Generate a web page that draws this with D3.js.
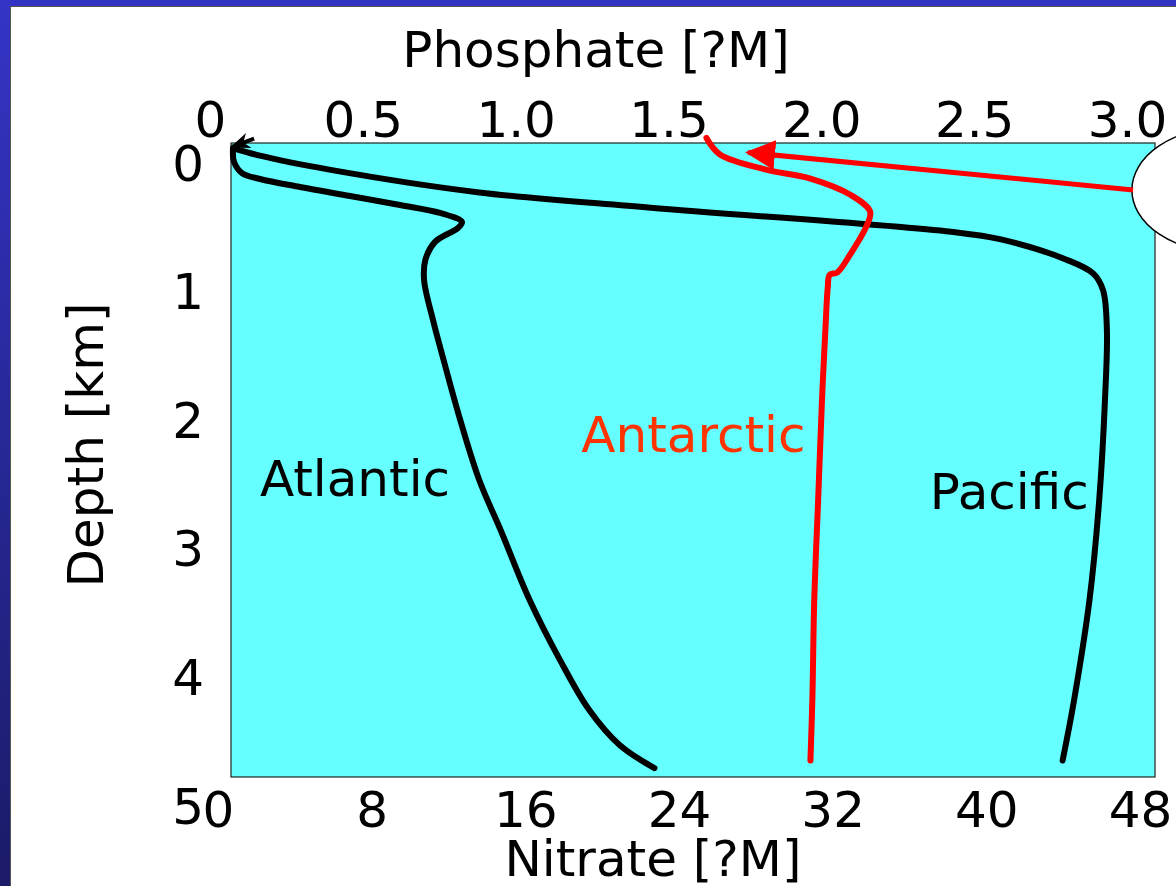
<!DOCTYPE html>
<html>
<head>
<meta charset="utf-8">
<title>Phosphate / Nitrate depth profiles</title>
<script src="https://cdn.jsdelivr.net/npm/d3@7"></script>
<style>
	body { margin: 0; background: #fff; }
	svg text { font-family: "DejaVu Sans", Verdana, sans-serif; }
</style>
</head>
<body>
<svg id="chart" width="1176" height="886"></svg>
<script>

// tick values
var nitrateTicks = [0, 8, 16, 24, 32, 40, 48]
var phosphateTicks = [0, 0.5, 1.0, 1.5, 2.0, 2.5, 3.0]
var depthTicks = [0, 1, 2, 3, 4, 5]

// profiles: nitrate [uM] vs depth [km]
var atlanticNitrate = [0.1, 0.16, 0.57, 1.51, 3.58, 6.18, 8.78, 10.86, 12.0, 11.79, 10.6, 10.1, 10.03, 10.5, 10.9, 11.9, 12.9, 14.0, 15.5, 17.1, 18.6, 20.2, 22.0]
var atlanticDepth   = [0.055, 0.15, 0.237, 0.284, 0.347, 0.418, 0.489, 0.552, 0.623, 0.67, 0.78, 0.92, 1.08, 1.40, 1.63, 2.18, 2.66, 3.05, 3.60, 4.08, 4.47, 4.75, 4.93]

var pacificNitrate = [0.1, 1.5, 5.1, 12.9, 21.8, 37.4, 40.0, 43.4, 44.8, 45.3, 45.5, 45.4, 45.1, 44.6, 43.8, 43.2]
var pacificDepth   = [0.04, 0.10, 0.21, 0.39, 0.51, 0.70, 0.76, 0.92, 1.03, 1.16, 1.47, 2.03, 2.82, 3.60, 4.39, 4.87]

var antarcticNitrate = [24.7, 25.4, 27.8, 30.1, 32.2, 33.2, 33.0, 32.2, 31.5, 31.1, 31.0, 30.9, 30.7, 30.5, 30.3, 30.2, 30.1]
var antarcticDepth   = [-0.04, 0.09, 0.21, 0.28, 0.41, 0.54, 0.66, 0.87, 1.02, 1.04, 1.14, 1.40, 2.03, 2.82, 3.60, 4.39, 4.87]

// labels inside the plot (nitrate, depth of baseline start)
var labelNames = ['Atlantic', 'Antarctic', 'Pacific']
var labelNitrate = [1.5, 18.2, 36.3]
var labelDepth = [2.78, 2.44, 2.89]

var W = 1176, H = 886
var plot = {left: 231, top: 143, right: 1155, bottom: 777}

var svg = d3.select('#chart')

// slide frame
var defs = svg.append('defs')
var grad = defs.append('linearGradient').attr('id', 'sideGrad')
	.attr('x1', 0).attr('y1', 0).attr('x2', 0).attr('y2', 1)
grad.append('stop').attr('offset', '0%').attr('stop-color', '#3434c6')
grad.append('stop').attr('offset', '100%').attr('stop-color', '#1b1b68')

svg.append('rect').attr('x', 0).attr('y', 0).attr('width', W).attr('height', 6).attr('fill', '#3333c4')
svg.append('rect').attr('x', 0).attr('y', 0).attr('width', 10).attr('height', H).attr('fill', 'url(#sideGrad)')
svg.append('line').attr('x1', 10).attr('x2', W).attr('y1', 6.5).attr('y2', 6.5).attr('stroke', '#555').attr('stroke-width', 1)
svg.append('line').attr('x1', 10.5).attr('x2', 10.5).attr('y1', 6).attr('y2', H).attr('stroke', '#555').attr('stroke-width', 1)

// scales
var x = d3.scaleLinear().domain([0, 48]).range([plot.left, plot.right])
var y = d3.scaleLinear().domain([0, 5]).range([plot.top, plot.bottom])

// label scales (the slide's tick labels sit a little off the plot grid)
var xLabN = d3.scaleLinear().domain([0, 48]).range([218, 1140])
var xLabP = d3.scaleLinear().domain([0, 3]).range([210, 1127])
var yLab = d3.scaleLinear().domain([0, 5]).range([162, 805])

// plot area
svg.append('rect')
	.attr('x', plot.left).attr('y', plot.top)
	.attr('width', plot.right - plot.left).attr('height', plot.bottom - plot.top)
	.attr('fill', '#66ffff').attr('stroke', '#222').attr('stroke-width', 1.2)

function styleAxis(g) {
	g.select('.domain').remove()
	g.selectAll('.tick line').remove()
	g.selectAll('.tick text')
		.attr('fill', '#000')
		.style('font-size', '50px')
		.attr('font-family', null)
}

// bottom axis: nitrate
svg.append('g')
	.attr('transform', 'translate(0,' + plot.bottom + ')')
	.call(d3.axisBottom(xLabN).tickValues(nitrateTicks).tickFormat(d3.format('d')).tickSize(0))
	.call(styleAxis)
	.selectAll('.tick text').attr('y', 50).attr('dy', 0)

// top axis: phosphate
svg.append('g')
	.attr('transform', 'translate(0,' + plot.top + ')')
	.call(d3.axisTop(xLabP).tickValues(phosphateTicks)
		.tickFormat(function(d) { return d === 0 ? '0' : d3.format('.1f')(d) }).tickSize(0))
	.call(styleAxis)
	.selectAll('.tick text').attr('y', -6).attr('dy', 0)

// left axis: depth
svg.append('g')
	.attr('transform', 'translate(204,0)')
	.call(d3.axisLeft(yLab).tickValues(depthTicks).tickFormat(d3.format('d')).tickSize(0))
	.call(styleAxis)
	.selectAll('.tick text').attr('x', 0).attr('dy', '0.36em')

// axis titles
svg.append('text').attr('x', 596).attr('y', 67).attr('text-anchor', 'middle')
	.style('font-size', '50px').text('Phosphate [?M]')
svg.append('text').attr('x', 653).attr('y', 876).attr('text-anchor', 'middle')
	.style('font-size', '50px').text('Nitrate [?M]')
svg.append('text').attr('transform', 'translate(103,445) rotate(-90)').attr('text-anchor', 'middle')
	.style('font-size', '50px').text('Depth [km]')

// profiles
var line = d3.line()
	.x(function(d) { return x(d[0]) })
	.y(function(d) { return y(d[1]) })
	.curve(d3.curveCatmullRom.alpha(0.5))

var profiles = [
	{nit: atlanticNitrate, dep: atlanticDepth, color: '#000'},
	{nit: pacificNitrate, dep: pacificDepth, color: '#000'},
	{nit: antarcticNitrate, dep: antarcticDepth, color: '#ff0000'}
]

profiles.forEach(function(p) {
	var pts = d3.zip(p.nit, p.dep)
	svg.append('path')
		.attr('d', line(pts))
		.attr('fill', 'none')
		.attr('stroke', p.color)
		.attr('stroke-width', 6)
		.attr('stroke-linecap', 'round')
		.attr('stroke-linejoin', 'round')
})

// annotations: ellipse with red arrow, small black arrow
var ellipseC = [51.6, 0.37]
svg.append('ellipse')
	.attr('cx', x(ellipseC[0])).attr('cy', y(ellipseC[1]))
	.attr('rx', x(4.8) - x(0)).attr('ry', y(0.49) - y(0))
	.attr('fill', '#fff').attr('stroke', '#000').attr('stroke-width', 1.5)

defs.append('marker').attr('id', 'redHead')
	.attr('viewBox', '0 0 10 10').attr('refX', 9).attr('refY', 5)
	.attr('markerWidth', 6).attr('markerHeight', 6).attr('markerUnits', 'strokeWidth')
	.attr('orient', 'auto')
	.append('path').attr('d', 'M0,0 L10,5 L0,10 Z').attr('fill', '#ff0000')

defs.append('marker').attr('id', 'blackHead')
	.attr('viewBox', '0 0 10 10').attr('refX', 9).attr('refY', 5)
	.attr('markerWidth', 5).attr('markerHeight', 5).attr('markerUnits', 'strokeWidth')
	.attr('orient', 'auto')
	.append('path').attr('d', 'M0,1 L10,5 L0,9 L3,5 Z').attr('fill', '#000')

var redArrow = [[46.86, 0.37], [26.86, 0.075]]
svg.append('line')
	.attr('x1', x(redArrow[0][0])).attr('y1', y(redArrow[0][1]))
	.attr('x2', x(redArrow[1][0])).attr('y2', y(redArrow[1][1]))
	.attr('stroke', '#ff0000').attr('stroke-width', 5)
	.attr('marker-end', 'url(#redHead)')

var blackArrow = [[1.2, -0.035], [0.05, 0.03]]
svg.append('line')
	.attr('x1', x(blackArrow[0][0])).attr('y1', y(blackArrow[0][1]))
	.attr('x2', x(blackArrow[1][0])).attr('y2', y(blackArrow[1][1]))
	.attr('stroke', '#000').attr('stroke-width', 4)
	.attr('marker-end', 'url(#blackHead)')

// curve labels
svg.selectAll('.curve-label')
	.data(labelNames)
	.enter()
	.append('text')
	.attr('class', 'curve-label')
	.attr('x', function(d, i) { return x(labelNitrate[i]) })
	.attr('y', function(d, i) { return y(labelDepth[i]) })
	.attr('fill', function(d) { return d === 'Antarctic' ? '#ff3300' : '#000' })
	.style('font-size', '50px')
	.text(function(d) { return d })

</script>
</body>
</html>
